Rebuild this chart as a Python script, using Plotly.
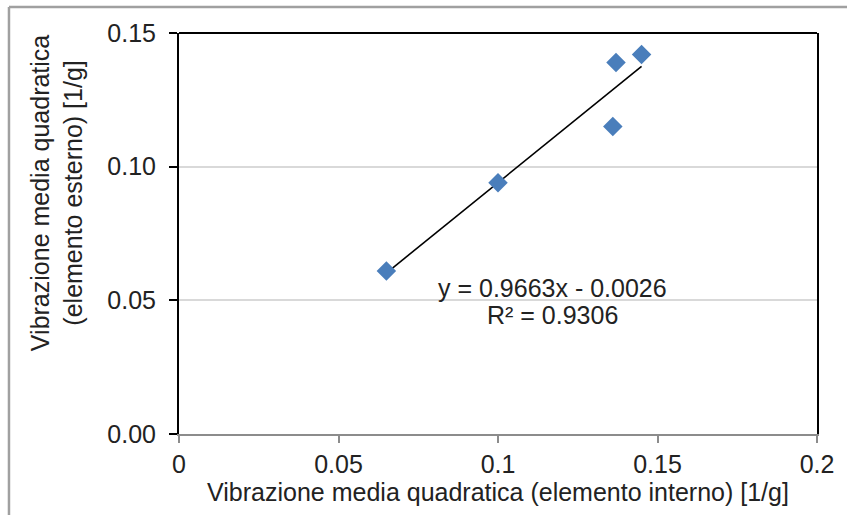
import plotly.graph_objects as go

# Measured RMS vibration: inner element (x) vs outer element (y), in 1/g
interno = [0.065, 0.100, 0.136, 0.137, 0.145]
esterno = [0.061, 0.094, 0.115, 0.139, 0.142]

# Linear trend as fitted
slope = 0.9663
intercept = -0.0026
r2 = 0.9306

x_ticks = [0, 0.05, 0.1, 0.15, 0.2]
x_tick_text = ["0", "0.05", "0.1", "0.15", "0.2"]
y_ticks = [0.0, 0.05, 0.10, 0.15]
y_tick_text = ["0.00", "0.05", "0.10", "0.15"]

FONT = "Liberation Sans, Arial, sans-serif"
TXT = "#222222"
FS = 25

x_lo, x_hi = min(interno), max(interno)
trend_x = [x_lo, x_hi]
trend_y = [slope * v + intercept for v in trend_x]

fig = go.Figure()
fig.add_trace(go.Scatter(
    x=trend_x, y=trend_y, mode="lines",
    line=dict(color="black", width=1.6),
    hoverinfo="skip", showlegend=False,
))
fig.add_trace(go.Scatter(
    x=interno, y=esterno, mode="markers",
    marker=dict(symbol="diamond", size=15, color="#4A7EBB",
                line=dict(width=0)),
    showlegend=False,
))

# Trendline equation and R² label
sign = "-" if intercept < 0 else "+"
fig.add_annotation(
    x=0.1172, y=0.0546, xref="x", yref="y",
    text=f"y = {slope:.4f}x {sign} {abs(intercept):.4f}",
    showarrow=False, xanchor="center", yanchor="middle",
    font=dict(family=FONT, size=FS, color=TXT),
)
fig.add_annotation(
    x=0.1172, y=0.0445, xref="x", yref="y",
    text=f"R² = {r2:.4f}",
    showarrow=False, xanchor="center", yanchor="middle",
    font=dict(family=FONT, size=FS, color=TXT),
)

# Y-axis title
fig.add_annotation(
    x=-0.191, y=0.601, xref="paper", yref="paper",
    text="Vibrazione media quadratica<br>(elemento esterno) [1/g]",
    textangle=-90, showarrow=False, xanchor="center", yanchor="middle",
    align="center",
    font=dict(family=FONT, size=FS, color=TXT),
)

# Outer chart frame (left and top edges visible)
fig.add_shape(type="line", xref="paper", yref="paper",
              x0=-0.2665, x1=1.2, y0=1.0648, y1=1.0648,
              line=dict(color="#A0A0A0", width=2.5))
fig.add_shape(type="line", xref="paper", yref="paper",
              x0=-0.2665, x1=-0.2665, y0=-0.3, y1=1.0648,
              line=dict(color="#A0A0A0", width=2.5))
# Top border of plot area
fig.add_shape(type="line", xref="paper", yref="paper",
              x0=0, x1=1, y0=1, y1=1,
              line=dict(color="black", width=2))

fig.update_layout(
    width=847, height=515,
    margin=dict(l=179, r=30, t=33, b=81),
    plot_bgcolor="white", paper_bgcolor="white",
    font=dict(family=FONT, size=FS, color=TXT),
    xaxis=dict(
        range=[0, 0.2], tickvals=x_ticks, ticktext=x_tick_text,
        showgrid=False, zeroline=False,
        showline=True, linecolor="#8C8C8C", linewidth=2,
        ticks="outside", ticklen=7, tickcolor="#8C8C8C", tickwidth=1.5,
        tickfont=dict(family=FONT, size=FS, color=TXT),
        title=dict(text="Vibrazione media quadratica (elemento interno) [1/g]",
                   font=dict(family=FONT, size=FS, color=TXT), standoff=6),
    ),
    yaxis=dict(
        range=[0, 0.15], tickvals=y_ticks, ticktext=y_tick_text,
        showgrid=True, gridcolor="#D9D9D9", gridwidth=1.5,
        zeroline=False,
        showline=True, linecolor="black", linewidth=2, mirror=True,
        ticks="outside", ticklen=8, tickcolor="black", tickwidth=1.5,
        ticklabelstandoff=8,
        tickfont=dict(family=FONT, size=FS, color=TXT),
    ),
)

fig.write_html("out.html")
